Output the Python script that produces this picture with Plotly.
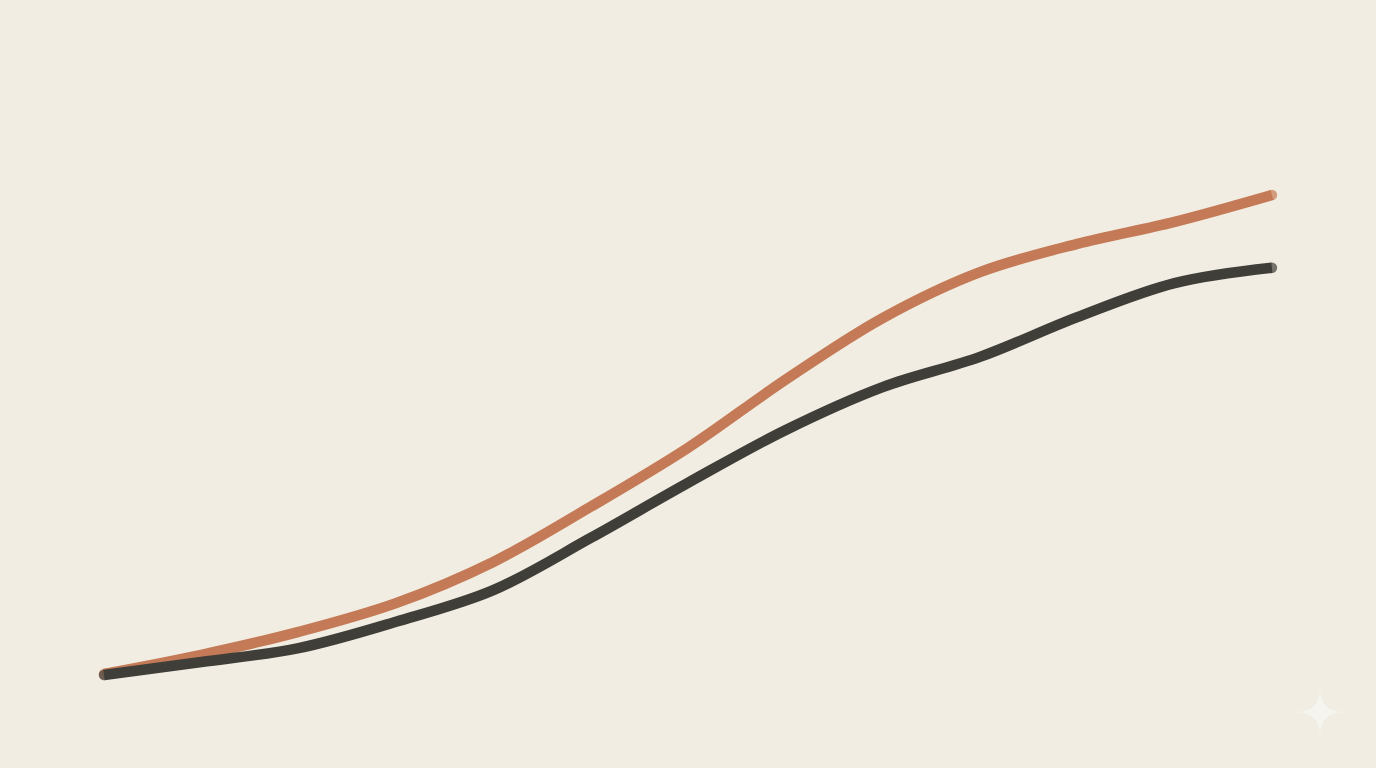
import plotly.graph_objects as go

# twelve steps along the x axis, values on an arbitrary index scale
steps = list(range(13))
orange_vals = [0, 4.0, 8.8, 14.8, 23.4, 34.9, 47.2, 61.4, 74.3, 83.9, 89.8, 94.4, 100]
dark_vals = [-0.2, 2.5, 5.4, 10.9, 17.5, 28.4, 39.9, 50.9, 59.9, 66.2, 74.5, 81.6, 84.8]

ORANGE = '#C47A57'
DARK = '#403E39'
BG = '#F2EDE2'
LINE_W = 10.5


def end_caps(n, size):
    # round caps only at the two ends of a line
    return [size] + [0] * (n - 2) + [size]


fig = go.Figure()

for vals, col in [(orange_vals, ORANGE), (dark_vals, DARK)]:
    fig.add_trace(go.Scatter(
        x=steps, y=vals,
        mode='lines+markers',
        line=dict(color=col, width=LINE_W, shape='spline', smoothing=1.0),
        marker=dict(color=col, size=end_caps(len(steps), LINE_W), line=dict(width=0)),
        hoverinfo='skip', showlegend=False
    ))

# small four-point sparkle in the lower right corner
cx, cy, w, h = 0.9593, 0.0729, 0.0175, 0.0313
star = (f'M {cx},{cy + h} Q {cx},{cy} {cx + w},{cy} '
        f'Q {cx},{cy} {cx},{cy - h} Q {cx},{cy} {cx - w},{cy} '
        f'Q {cx},{cy} {cx},{cy + h} Z')

fig.update_layout(
    width=1376, height=768,
    margin=dict(l=0, r=0, t=0, b=0),
    paper_bgcolor=BG, plot_bgcolor=BG,
    xaxis=dict(range=[-1.0685, 13.069], visible=False, fixedrange=True),
    yaxis=dict(range=[-19.62, 140.7], visible=False, fixedrange=True),
    shapes=[dict(type='path', xref='paper', yref='paper', path=star,
                 fillcolor='#F6F4EF', line=dict(width=0), layer='above')],
)

fig.write_html(
    "out.html",
    config={'displayModeBar': False},
    post_script="document.body.style.margin='0';document.body.style.overflow='hidden';"
                "document.body.style.background='" + BG + "';"
)
